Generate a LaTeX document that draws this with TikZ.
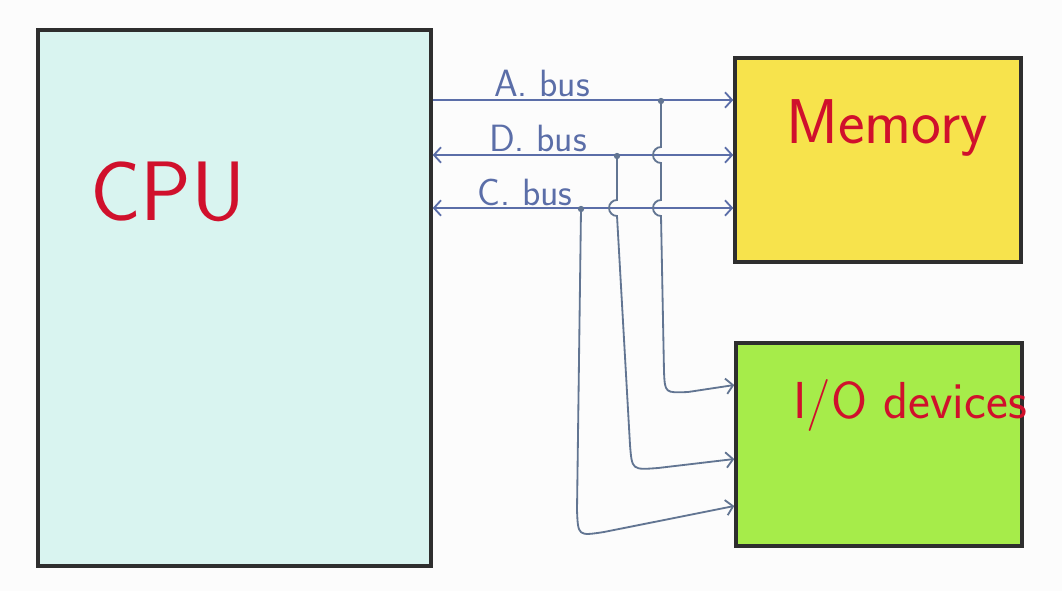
\documentclass[tikz,border=0pt]{standalone}
\usepackage{tikz}
\usetikzlibrary{arrows.meta,positioning}
\definecolor{cpufill}{HTML}{D9F4F0}
\definecolor{memfill}{HTML}{F7E34C}
\definecolor{iofill}{HTML}{A6EC4A}
\definecolor{boxline}{HTML}{2E2E2E}
\definecolor{inkred}{HTML}{D0102C}
\definecolor{busblue}{HTML}{5B6EA8}
\definecolor{tapblue}{HTML}{627592}
\begin{document}
\begin{tikzpicture}[x=0.025cm,y=-0.025cm,
  box/.style={draw=boxline,line width=2.4pt,inner sep=0pt},
  title/.style={text=inkred,font=\sffamily},
  buslbl/.style={text=busblue,font=\sffamily\fontsize{27}{30}\selectfont},
  bus/.style={draw=busblue,line width=1.3pt},
  tap/.style={draw=tapblue,line width=1.3pt},
  tip/.style={-{Straight Barb[length=5pt,width=11pt]}},
  dot/.style={circle,fill=tapblue,inner sep=0pt,minimum size=4.5pt}]
  \fill[white!99!black] (0,0) rectangle (1062,591);
  \useasboundingbox (0,0) rectangle (1062,591);
  % boxes
  \node[box,fill=cpufill,minimum width=9.825cm,minimum height=13.4cm] (cpu) at (234.5,298) {};
  \node[box,fill=memfill,minimum width=7.15cm,minimum height=5.1cm] (mem) at (878,160) {};
  \node[box,fill=iofill,minimum width=7.15cm,minimum height=5.075cm] (io) at (879,444.5) {};
  \node[title,font=\sffamily\fontsize{60}{64}\selectfont] (cputxt) at (168,192) {CPU};
  \node[title,font=\sffamily\fontsize{45}{50}\selectfont] (memtxt) at (887,128) {Memory};
  \node[title,font=\sffamily\fontsize{37}{42}\selectfont] (iotxt) at (910,405) {I/O devices};
  % buses
  \draw[bus,tip] (cpu.east |- 0,100) -- (mem.west |- 0,100);
  \draw[bus,{Straight Barb[length=5pt,width=11pt]}-{Straight Barb[length=5pt,width=11pt]}] (cpu.east |- 0,155) -- (mem.west |- 0,155);
  \draw[bus,{Straight Barb[length=5pt,width=11pt]}-{Straight Barb[length=5pt,width=11pt]}] (cpu.east |- 0,208) -- (mem.west |- 0,208);
  \node[buslbl] (alabel) at (542,83) {A. bus};
  \node[buslbl] (dlabel) at (538,138) {D. bus};
  \node[buslbl] (clabel) at (525,192) {C. bus};
  % taps to I/O
  \node[dot] (atap) at (661,101) {};
  \node[dot] (dtap) at (617,156) {};
  \node[dot] (ctap) at (581,209) {};
  \draw[tap,tip] (atap.center) -- (661,147) arc[start angle=90,end angle=270,radius=0.2cm]
    -- (661,200) arc[start angle=90,end angle=270,radius=0.2cm]
    -- (664,372) .. controls (665,393) .. (688,392) -- (io.west |- 0,385);
  \draw[tap,tip] (dtap.center) -- (617,200) arc[start angle=90,end angle=270,radius=0.2cm]
    -- (630,445) .. controls (632,470) .. (658,468) -- (io.west |- 0,459);
  \draw[tap,tip] (ctap.center) -- (577,510) .. controls (578,536) .. (604,532) -- (io.west |- 0,506);
\end{tikzpicture}
\end{document}
